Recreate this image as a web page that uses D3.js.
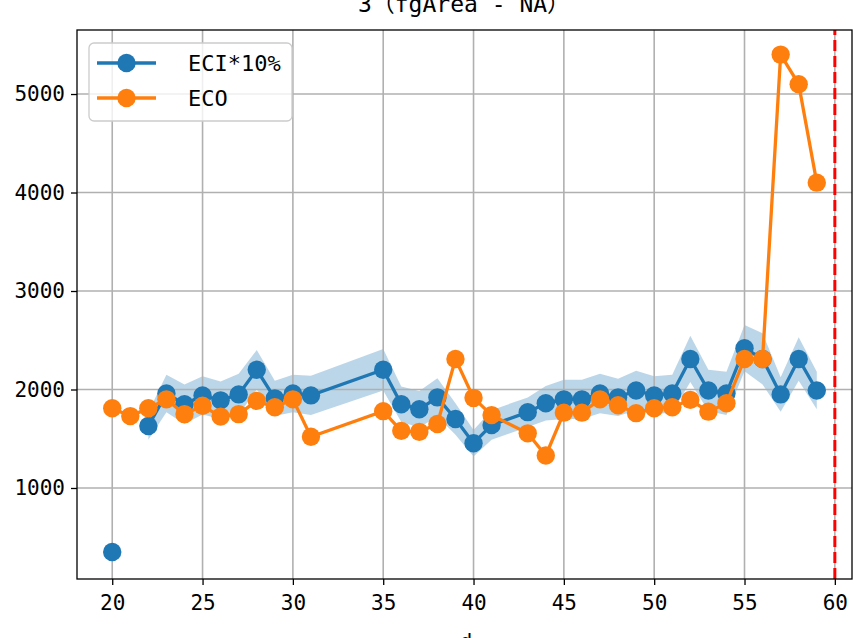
<!DOCTYPE html>
<html>
<head>
<meta charset="utf-8">
<script src="https://cdn.jsdelivr.net/npm/d3@7"></script>
<style>
  body { margin: 0; background: #fff; }
  text { font-family: "DejaVu Sans Mono", "Noto Sans CJK SC", monospace; }
</style>
</head>
<body>
<div id="chart"></div>
<script>
// day index, ECI*10% mean with its spread band, and ECO
const days = [20, 21, 22, 23, 24, 25, 26, 27, 28, 29, 30, 31,
              35, 36, 37, 38, 39, 40, 41,
              43, 44, 45, 46, 47, 48, 49, 50, 51, 52, 53, 54, 55, 56, 57, 58, 59];
const eci = [350, null, 1630, 1960, 1850, 1940, 1890, 1950, 2200, 1910, 1960, 1940,
             2200, 1850, 1800, 1920, 1700, 1455, 1640,
             1770, 1860, 1900, 1900, 1960, 1920, 1990, 1940, 1960, 2310, 1990, 1960, 2420, 2310, 1950, 2310, 1990];
const eciStd = [0, null, 140, 190, 200, 195, 190, 210, 200, 180, 190, 200,
                210, 180, 185, 195, 160, 135, 150,
                150, 175, 200, 200, 200, 190, 200, 195, 190, 235, 210, 220, 235, 260, 175, 220, 190];
const eco = [1810, 1730, 1810, 1900, 1750, 1835, 1725, 1750, 1885, 1820, 1900, 1520,
             1780, 1580, 1570, 1650, 2310, 1915, 1740,
             1555, 1330, 1765, 1765, 1900, 1840, 1760, 1810, 1820, 1895, 1775, 1860, 2310, 2310, 5400, 5100, 4100];
const xTicks = [20, 25, 30, 35, 40, 45, 50, 55, 60];
const yTicks = [1000, 2000, 3000, 4000, 5000];
const cutoff = 60;
const seriesNames = ["ECI*10%", "ECO"];

let width = 854;
let height = 638;
const blue = "#1f77b4", orange = "#ff7f0e";

var svg = d3.select("#chart").append("svg")
    .attr("width", width)
    .attr("height", height);

const x = d3.scaleLinear().domain([18.05, 60.95]).range([77, 852]);
const y = d3.scaleLinear().domain([76, 5650]).range([579, 30]);

let rows = days.map((d, i) => ({ d: d, eci: eci[i], sd: eciStd[i], eco: eco[i] }));

// band, under the grid
let band = d3.area()
    .defined(d => d.eci != null)
    .x(d => x(d.d))
    .y0(d => y(d.eci - d.sd))
    .y1(d => y(d.eci + d.sd));
svg.append("path")
    .datum(rows)
    .attr("d", band)
    .attr("fill", blue)
    .attr("fill-opacity", 0.3);

// grid
svg.append("g")
    .selectAll("line")
    .data(xTicks)
    .join("line")
    .attr("x1", d => x(d)).attr("x2", d => x(d))
    .attr("y1", y.range()[0]).attr("y2", y.range()[1])
    .attr("stroke", "#b0b0b0").attr("stroke-width", 1.6);
svg.append("g")
    .selectAll("line")
    .data(yTicks)
    .join("line")
    .attr("y1", d => y(d)).attr("y2", d => y(d))
    .attr("x1", x.range()[0]).attr("x2", x.range()[1])
    .attr("stroke", "#b0b0b0").attr("stroke-width", 1.6);

// lines + markers
function drawSeries(key, color) {
    let line = d3.line()
        .defined(d => d[key] != null)
        .x(d => x(d.d))
        .y(d => y(d[key]));
    svg.append("path")
        .datum(rows)
        .attr("d", line)
        .attr("fill", "none")
        .attr("stroke", color)
        .attr("stroke-width", 3.3);
    svg.append("g")
        .selectAll("circle")
        .data(rows.filter(d => d[key] != null))
        .join("circle")
        .attr("cx", d => x(d.d))
        .attr("cy", d => y(d[key]))
        .attr("r", 9.2)
        .attr("fill", color);
}
drawSeries("eci", blue);
drawSeries("eco", orange);

// cutoff line
svg.append("line")
    .attr("x1", x(cutoff)).attr("x2", x(cutoff))
    .attr("y1", y.range()[0]).attr("y2", y.range()[1])
    .attr("stroke", "red")
    .attr("stroke-width", 3)
    .attr("stroke-dasharray", "11,5");

// spines
svg.append("rect")
    .attr("x", 77).attr("y", 30)
    .attr("width", 775).attr("height", 549)
    .attr("fill", "none")
    .attr("stroke", "black")
    .attr("stroke-width", 1.3);

// axes
const xAxis = svg.append("g")
    .attr("transform", `translate(0,${y.range()[0]})`)
    .call(d3.axisBottom(x).tickValues(xTicks).tickSize(6).tickPadding(10));
const yAxis = svg.append("g")
    .attr("transform", `translate(${x.range()[0]},0)`)
    .call(d3.axisLeft(y).tickValues(yTicks).tickSize(6).tickPadding(6).tickFormat(d3.format("d")));
[xAxis, yAxis].forEach(a => {
    a.select(".domain").remove();
    a.selectAll(".tick line").attr("stroke", "black").attr("stroke-width", 1.3);
    a.selectAll("text")
        .attr("font-size", "21px")
        .attr("font-family", "DejaVu Sans Mono")
        .attr("fill", "black");
});

// title (partly off the top, as in the original)
svg.append("text")
    .attr("x", 464)
    .attr("y", 12)
    .attr("text-anchor", "middle")
    .attr("font-size", "23px")
    .text("3（fgArea - NA）");

// x label, mostly below the bottom edge
svg.append("text")
    .attr("x", 466)
    .attr("y", 649)
    .attr("text-anchor", "middle")
    .attr("font-size", "21px")
    .text("d");

// legend
const lg = svg.append("g");
lg.append("rect")
    .attr("x", 89).attr("y", 43)
    .attr("width", 203).attr("height", 78)
    .attr("rx", 5)
    .attr("fill", "white").attr("fill-opacity", 0.8)
    .attr("stroke", "#cccccc").attr("stroke-width", 1.3);
seriesNames.forEach((name, i) => {
    let cy = 63 + i * 35;
    let c = i === 0 ? blue : orange;
    lg.append("line")
        .attr("x1", 97).attr("x2", 156)
        .attr("y1", cy).attr("y2", cy)
        .attr("stroke", c).attr("stroke-width", 3.3);
    lg.append("circle")
        .attr("cx", 126.5).attr("cy", cy).attr("r", 9.2).attr("fill", c);
    lg.append("text")
        .attr("x", 188).attr("y", cy + 8)
        .attr("font-size", "22px")
        .text(name);
});
</script>
</body>
</html>
